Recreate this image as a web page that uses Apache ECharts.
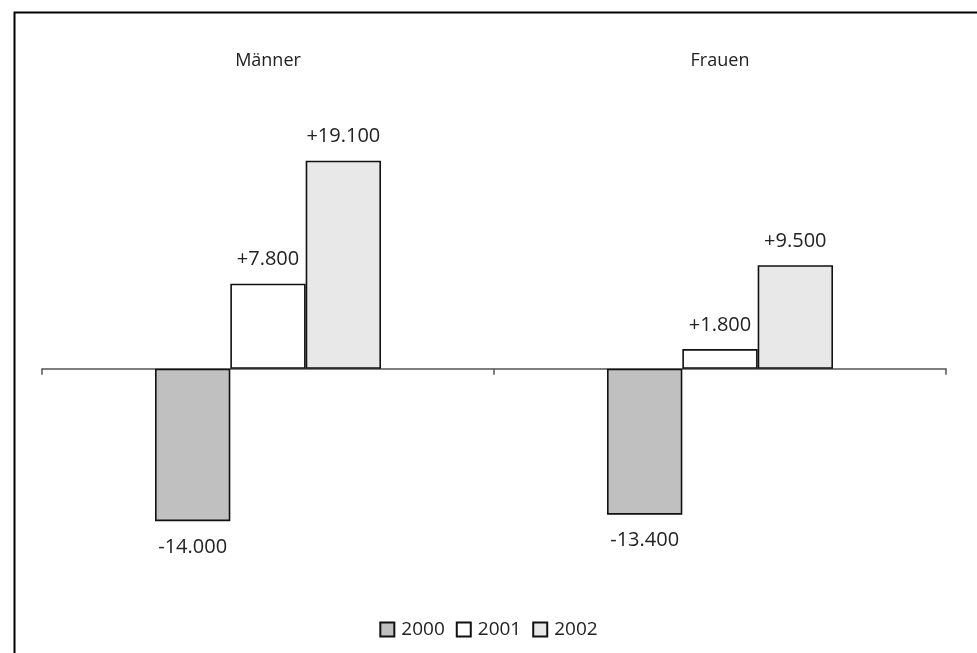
<!DOCTYPE html>
<html>
<head>
<meta charset="utf-8">
<script src="https://cdn.jsdelivr.net/npm/echarts@6/dist/echarts.min.js"></script>
<style>html,body{margin:0;padding:0;background:#fff}#c{width:977px;height:653px}</style>
</head>
<body>
<div id="c"></div>
<script>
const categories = ['Männer', 'Frauen'];
const seriesNames = ['2000', '2001', '2002'];
const values2000 = [-14000, -13400];
const values2001 = [7800, 1800];
const values2002 = [19100, 9500];
const seriesColors = ['#c0c0c0', '#ffffff', '#e8e8e8'];

const FONT = 'Open Sans';
function fmt(v) {
  const s = Math.abs(v).toString().replace(/\B(?=(\d{3})+(?!\d))/g, '.');
  return (v >= 0 ? '+' : '-') + s;
}
function mkSeries(name, vals, color) {
  return {
    name: name,
    type: 'bar',
    barGap: 0,
    barCategoryGap: '50%',
    itemStyle: { color: color, borderColor: '#111', borderWidth: 1.6 },
    data: vals.map(v => ({
      value: v,
      label: {
        show: true,
        position: v >= 0 ? 'top' : 'bottom',
        distance: v >= 0 ? 14 : 16,
        formatter: () => fmt(v),
        fontFamily: FONT, fontSize: 20, color: '#222'
      }
    }))
  };
}

const chart = echarts.init(document.getElementById('c'), null, { renderer: 'canvas' });
chart.setOption({
  backgroundColor: '#fff',
  animation: false,
  grid: { left: 42, right: 31, top: 140, bottom: 110, containLabel: false },
  legend: {
    bottom: 9,
    left: 'center',
    itemWidth: 14, itemHeight: 14, itemGap: 11,
    icon: 'rect',
    textStyle: { fontFamily: FONT, fontSize: 19, color: '#222', padding: [0, 0, 0, 2] },
    data: seriesNames
  },
  xAxis: [{
    type: 'category',
    data: categories,
    axisLine: { onZero: true, lineStyle: { color: '#555', width: 1.5 } },
    axisTick: { show: true, length: 6, inside: false, lineStyle: { color: '#555', width: 1.5 } },
    axisLabel: { show: false }
  }, {
    type: 'category',
    data: categories,
    position: 'top',
    axisLine: { show: false },
    axisTick: { show: false },
    axisLabel: { show: true, margin: 70, fontFamily: FONT, fontSize: 18, color: '#222' }
  }],
  yAxis: {
    type: 'value',
    min: -16000, max: 21000,
    show: false,
    splitLine: { show: false }
  },
  graphic: [{
    type: 'rect',
    left: 12, top: 10,
    shape: { width: 964, height: 700 },
    style: { fill: 'none', stroke: '#000', lineWidth: 2 },
    z: 100
  }],
  series: [
    mkSeries(seriesNames[0], values2000, seriesColors[0]),
    mkSeries(seriesNames[1], values2001, seriesColors[1]),
    mkSeries(seriesNames[2], values2002, seriesColors[2])
  ]
});
</script>
</body>
</html>
